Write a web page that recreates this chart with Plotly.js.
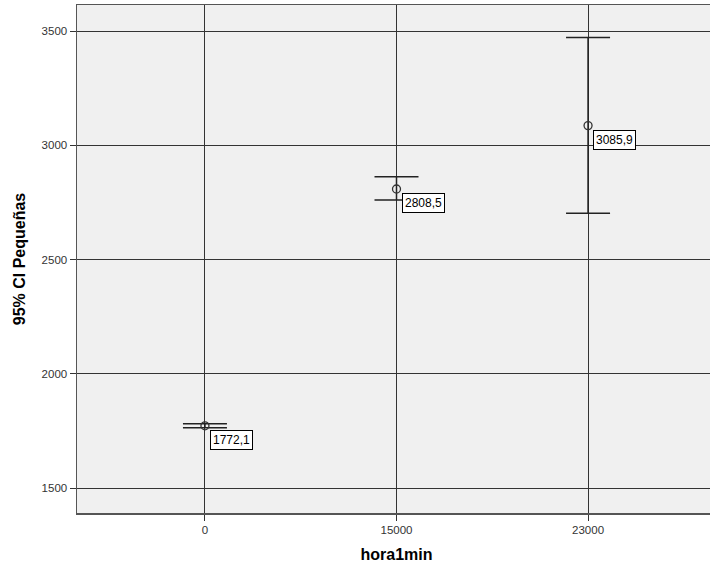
<!DOCTYPE html>
<html>
<head>
<meta charset="utf-8">
<script src="https://cdn.plot.ly/plotly-3.0.1.min.js"></script>
<style>
html,body{margin:0;padding:0;overflow:hidden;background:#fff;}
#chart{width:716px;height:571px;}
</style>
</head>
<body>
<div id="chart"></div>
<script>
var categories = ['0', '15000', '23000'];
var means = [1772.1, 2808.5, 3085.9];
var ciUpper = [1781, 2862, 3472];
var ciLower = [1764, 2760, 2702];
var labels = ['1772,1', '2808,5', '3085,9'];
var yTicks = [1500, 2000, 2500, 3000, 3500];

var errPlus = means.map(function(m, i){ return ciUpper[i] - m; });
var errMinus = means.map(function(m, i){ return m - ciLower[i]; });

var trace = {
  type: 'scatter',
  mode: 'markers',
  x: categories,
  y: means,
  marker: {symbol: 'circle-open', size: 8, color: '#333', line: {width: 1.3, color: '#333'}},
  error_y: {type: 'data', symmetric: false, array: errPlus, arrayminus: errMinus,
            color: '#222', thickness: 1.5, width: 22},
  hoverinfo: 'skip',
  showlegend: false
};

var annotations = categories.map(function(c, i){
  return {
    x: i, y: means[i], xref: 'x', yref: 'y',
    text: labels[i], showarrow: false,
    xanchor: 'left', yanchor: 'top', xshift: 5, yshift: -4,
    font: {family: 'Liberation Sans, Arial, sans-serif', size: 12, color: '#000'},
    bgcolor: '#fff', bordercolor: '#000', borderwidth: 1, borderpad: 2
  };
});

var layout = {
  width: 716, height: 571,
  margin: {l: 77, r: 0, t: 5, b: 58},
  paper_bgcolor: '#fff',
  plot_bgcolor: '#f0f0f0',
  font: {family: 'Liberation Sans, Arial, sans-serif', color: '#333'},
  xaxis: {
    type: 'category',
    range: [-0.668, 2.668],
    showgrid: true, gridcolor: '#333', gridwidth: 1,
    zeroline: false,
    showline: true, mirror: true, linecolor: '#555', linewidth: 1.5,
    ticks: 'outside', ticklen: 6, tickcolor: '#333', tickwidth: 1,
    tickfont: {size: 11.5, color: '#333'},
    title: {text: 'hora1min', font: {size: 16, color: '#000', weight: 'bold'}, standoff: 13}
  },
  yaxis: {
    range: [1390.6, 3613.8],
    tickvals: yTicks,
    ticktext: yTicks.map(String),
    showgrid: true, gridcolor: '#333', gridwidth: 1,
    zeroline: false,
    showline: true, mirror: true, linecolor: '#555', linewidth: 1.5,
    ticks: 'outside', ticklen: 6, tickcolor: '#333', tickwidth: 1,
    tickfont: {size: 11.5, color: '#333'},
    title: {text: '95% CI Pequeñas', font: {size: 16, color: '#000', weight: 'bold'}, standoff: 12}
  },
  annotations: annotations
};

Plotly.newPlot('chart', [trace], layout, {staticPlot: true, displayModeBar: false});
</script>
</body>
</html>
